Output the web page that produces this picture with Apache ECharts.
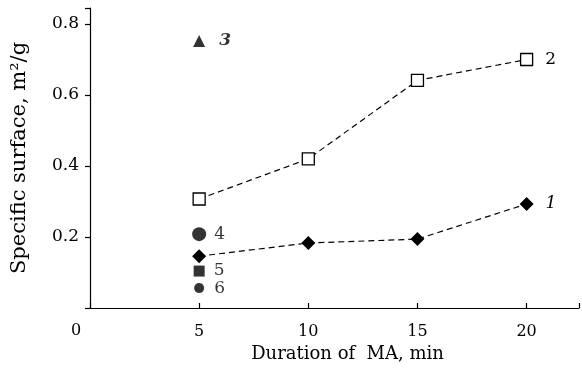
<!DOCTYPE html>
<html><head><meta charset="utf-8">
<script src="https://cdn.jsdelivr.net/npm/echarts@6/dist/echarts.min.js"></script>
<style>html,body{margin:0;padding:0;background:#fff}#c{width:582px;height:374px}</style>
</head><body><div id="c"></div>
<script>
const durations = [5, 10, 15, 20];
const curve1 = [0.146, 0.183, 0.194, 0.293];
const curve2 = [0.307, 0.420, 0.641, 0.700];
const point3 = [5, 0.752];
const point4 = [5, 0.208];
const point5 = [5, 0.104];
const point6 = [5, 0.056];
const xTicks = [5, 10, 15, 20];
const yTicks = [0.2, 0.4, 0.6, 0.8];

const FONT = '"DejaVu Serif", "Liberation Serif", serif';
const pair = (xs, ys) => xs.map((x, i) => [x, ys[i]]);
const LINE = { color: '#000', width: 1.2 };

function endLabel(data, text, italic) {
  return data.map((d, i) => i === data.length - 1 ? {
    value: d,
    label: { show: true, position: 'right', distance: 12, formatter: text,
      fontFamily: FONT, fontSize: 17, fontStyle: italic ? 'italic' : 'normal', color: '#000' }
  } : d);
}
function single(d, text, italic, dist) {
  return [{ value: d, label: { show: true, position: 'right', distance: dist, formatter: text,
    fontFamily: FONT, fontSize: 17, fontStyle: italic ? 'italic' : 'normal',
    fontWeight: italic ? 'bold' : 'normal', color: '#000' } }];
}

const chart = echarts.init(document.getElementById('c'));
chart.setOption({
  animation: false,
  backgroundColor: '#fff',
  grid: { left: 90, top: 8, right: 2, bottom: 66 },
  xAxis: {
    type: 'value', min: 0, max: 22.4, interval: 5,
    axisLine: { lineStyle: LINE },
    axisTick: { inside: true, length: 5, lineStyle: LINE },
    splitLine: { show: false },
    axisLabel: { color: '#000', fontFamily: FONT, fontSize: 16, margin: 16,
      formatter: v => xTicks.includes(v) ? String(v) : '' },
    name: 'Duration of  MA, min', nameLocation: 'middle', nameGap: 36,
    nameTextStyle: { color: '#000', fontFamily: FONT, fontSize: 18, padding: [0, 0, 0, 26] }
  },
  yAxis: {
    type: 'value', min: 0, max: 0.845, interval: 0.2,
    axisLine: { show: true, lineStyle: LINE },
    axisTick: { show: true, length: 5, lineStyle: LINE },
    splitLine: { show: false },
    axisLabel: { color: '#000', fontFamily: FONT, fontSize: 17, margin: 11,
      formatter: v => { const f = yTicks.find(t => Math.abs(t - v) < 1e-6); return f ? f.toFixed(1) : ''; } },
    name: 'Specific surface, m²/g', nameLocation: 'middle', nameGap: 60,
    nameTextStyle: { color: '#000', fontFamily: FONT, fontSize: 21 }
  },
  graphic: [{ type: 'text', left: 71, top: 323,
    style: { text: '0', fontFamily: FONT, fontSize: 16, fill: '#000' } }],
  series: [
    { type: 'line', data: endLabel(pair(durations, curve2), '2', false),
      symbol: 'rect', symbolSize: 12, showAllSymbol: true,
      lineStyle: { color: '#000', width: 1.2, type: [6, 4] },
      itemStyle: { color: '#fff', borderColor: '#000', borderWidth: 1.3 }, z: 3 },
    { type: 'line', data: endLabel(pair(durations, curve1), '1', true),
      symbol: 'diamond', symbolSize: 14, showAllSymbol: true,
      lineStyle: { color: '#000', width: 1.2, type: [6, 4] },
      itemStyle: { color: '#000' }, z: 3 },
    { type: 'scatter', data: single(point3, '3', true, 14), symbol: 'triangle', symbolSize: 12,
      itemStyle: { color: '#000' } },
    { type: 'scatter', data: single(point4, '4', false, 8), symbol: 'circle', symbolSize: 14,
      itemStyle: { color: '#000' } },
    { type: 'scatter', data: single(point5, '5', false, 9), symbol: 'rect', symbolSize: 11,
      itemStyle: { color: '#000' } },
    { type: 'scatter', data: single(point6, '6', false, 10), symbol: 'circle', symbolSize: 10,
      itemStyle: { color: '#000' } }
  ]
});
</script></body></html>
